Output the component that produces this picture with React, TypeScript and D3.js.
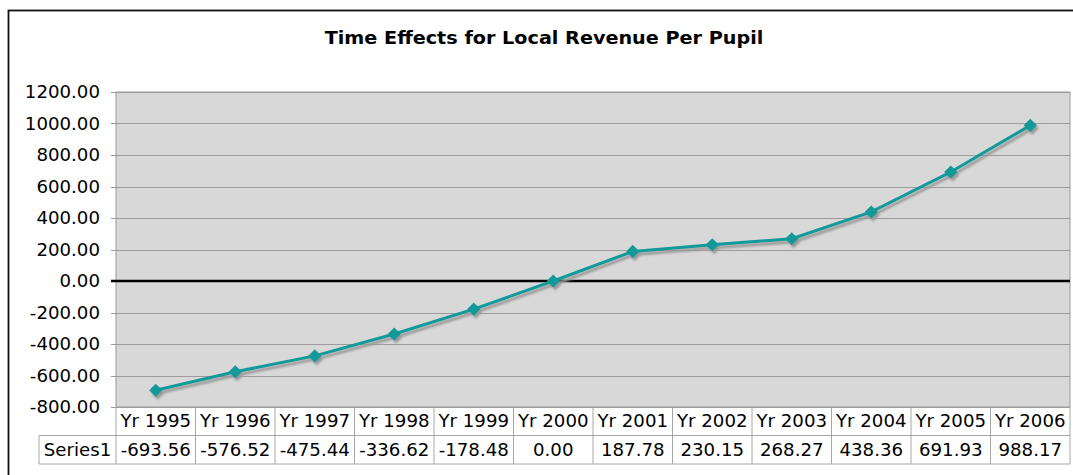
import React, { useEffect, useRef } from 'react';
import * as d3 from 'd3';

const years = ['Yr 1995', 'Yr 1996', 'Yr 1997', 'Yr 1998', 'Yr 1999', 'Yr 2000', 'Yr 2001', 'Yr 2002', 'Yr 2003', 'Yr 2004', 'Yr 2005', 'Yr 2006'];
const series1 = [-693.56, -576.52, -475.44, -336.62, -178.48, 0.0, 187.78, 230.15, 268.27, 438.36, 691.93, 988.17];
const yTicks = [-800, -600, -400, -200, 0, 200, 400, 600, 800, 1000, 1200];
const seriesName = 'Series1';
const title = 'Time Effects for Local Revenue Per Pupil';

const App = () => {
    const ref = useRef<SVGSVGElement>(null);

    useEffect(() => {
        const svg = d3.select(ref.current);
        svg.selectAll('*').remove();
        const width = 1073;
        const height = 475;
        const font = '"DejaVu Sans", Verdana, sans-serif';
        const left = 116;
        const right = 1070;
        const top = 92;
        const bottom = 407;
        const rowH = 28.5;
        const sx = 1.07; // Verdana is a bit wider than DejaVu

        svg.attr('width', width).attr('height', height).style('font-family', font);

        // outer chart frame (cropped at right/bottom)
        svg.append('rect')
            .attr('x', 8.5).attr('y', 10.5)
            .attr('width', 1080).attr('height', 480)
            .attr('fill', 'white').attr('stroke', '#111').attr('stroke-width', 1.8);

        svg.append('text')
            .attr('transform', `translate(544,44) scale(1.13,1)`)
            .attr('text-anchor', 'middle')
            .attr('font-size', 17).attr('font-weight', 'bold')
            .text(title);

        const x = d3.scaleBand().domain(years).range([left, right]);
        const y = d3.scaleLinear().domain([-800, 1200]).range([bottom, top]);
        const cx = (i: number) => (x(years[i]) as number) + x.bandwidth() / 2;

        svg.append('rect')
            .attr('x', left).attr('y', top)
            .attr('width', right - left).attr('height', bottom - top)
            .attr('fill', '#d8d8d8').attr('stroke', '#9a9a9a');

        svg.append('g').selectAll('line')
            .data(yTicks.filter((t) => t !== 0))
            .enter()
            .append('line')
            .attr('x1', left - 5).attr('x2', right)
            .attr('y1', (d) => Math.round(y(d)) + 0.5).attr('y2', (d) => Math.round(y(d)) + 0.5)
            .attr('stroke', '#9c9c9c').attr('stroke-width', 1);

        svg.append('g').selectAll('text')
            .data(yTicks)
            .enter()
            .append('text')
            .attr('transform', (d) => `translate(100,${y(d)}) scale(${sx},1)`)
            .attr('dy', '0.36em')
            .attr('text-anchor', 'end')
            .attr('font-size', 17)
            .text((d) => d.toFixed(2));

        // zero line
        svg.append('line')
            .attr('x1', left - 5).attr('x2', right)
            .attr('y1', y(0)).attr('y2', y(0))
            .attr('stroke', '#000').attr('stroke-width', 2.5);

        // line + shadow
        const line = d3.line<number>()
            .x((d, i) => cx(i))
            .y((d) => y(d));

        svg.append('defs').append('filter').attr('id', 'blur')
            .append('feGaussianBlur').attr('stdDeviation', 1);

        const diamond = d3.symbol().type(d3.symbolDiamond2).size(110);

        const shadow = svg.append('g').attr('transform', 'translate(2,3)').attr('filter', 'url(#blur)');
        shadow.append('path')
            .attr('d', line(series1))
            .attr('fill', 'none').attr('stroke', '#999').attr('stroke-width', 3);
        shadow.selectAll('path.m')
            .data(series1)
            .enter()
            .append('path')
            .attr('class', 'm')
            .attr('d', diamond)
            .attr('transform', (d, i) => `translate(${cx(i)},${y(d)})`)
            .attr('fill', '#999');

        svg.append('path')
            .attr('d', line(series1))
            .attr('fill', 'none').attr('stroke', '#12999a').attr('stroke-width', 3);

        svg.append('g').selectAll('path')
            .data(series1)
            .enter()
            .append('path')
            .attr('d', diamond)
            .attr('transform', (d, i) => `translate(${cx(i)},${y(d)})`)
            .attr('fill', '#12999a');

        // data table
        const table = svg.append('g');
        const tStroke = '#a6a6a6';
        table.selectAll('line.v')
            .data(years.concat(['end']))
            .enter()
            .append('line')
            .attr('class', 'v')
            .attr('x1', (d, i) => left + i * x.bandwidth())
            .attr('x2', (d, i) => left + i * x.bandwidth())
            .attr('y1', bottom).attr('y2', bottom + rowH * 2)
            .attr('stroke', tStroke);
        table.append('line')
            .attr('x1', 39).attr('x2', 39)
            .attr('y1', bottom + rowH).attr('y2', bottom + rowH * 2)
            .attr('stroke', tStroke);
        [1, 2].forEach((r) => {
            table.append('line')
                .attr('x1', 39).attr('x2', right)
                .attr('y1', bottom + rowH * r).attr('y2', bottom + rowH * r)
                .attr('stroke', tStroke);
        });

        table.selectAll('text.h')
            .data(years)
            .enter()
            .append('text')
            .attr('class', 'h')
            .attr('transform', (d, i) => `translate(${cx(i)},${bottom + 20}) scale(${sx},1)`)
            .attr('text-anchor', 'middle')
            .attr('font-size', 17)
            .text((d) => d);

        table.selectAll('text.d')
            .data(series1)
            .enter()
            .append('text')
            .attr('class', 'd')
            .attr('transform', (d, i) => `translate(${cx(i)},${bottom + rowH + 20}) scale(${sx},1)`)
            .attr('text-anchor', 'middle')
            .attr('font-size', 17)
            .text((d) => d.toFixed(2));

        table.append('text')
            .attr('transform', `translate(77.5,${bottom + rowH + 20}) scale(${sx},1)`)
            .attr('text-anchor', 'middle')
            .attr('font-size', 17)
            .text(seriesName);
    }, []);

    return <svg ref={ref} style={{ position: 'absolute', left: 0, top: 0 }} />;
};

export default App;
